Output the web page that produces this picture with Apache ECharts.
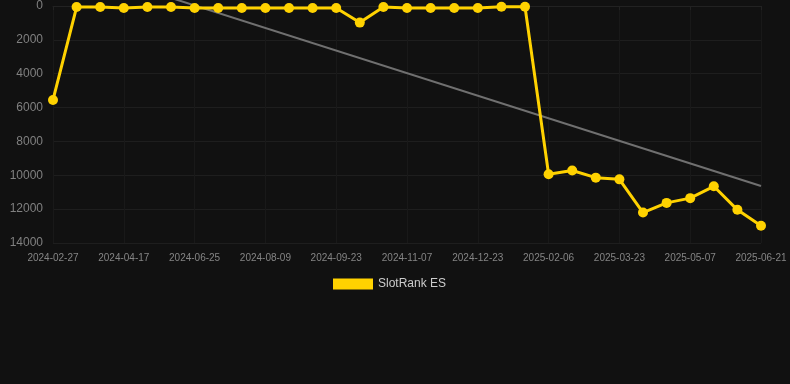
<!DOCTYPE html>
<html><head><meta charset="utf-8">
<script src="https://cdn.jsdelivr.net/npm/echarts@6/dist/echarts.min.js"></script>
<style>html,body{margin:0;padding:0;background:#111111;}#c{width:790px;height:384px;}</style>
</head><body><div id="c"></div>
<script>
const categories = ['2024-02-27','2024-03-15','2024-04-01','2024-04-17','2024-05-10','2024-06-02','2024-06-25',
 '2024-07-10','2024-07-25','2024-08-09','2024-08-24','2024-09-08','2024-09-23','2024-10-08','2024-10-23',
 '2024-11-07','2024-11-22','2024-12-08','2024-12-23','2025-01-07','2025-01-22','2025-02-06','2025-02-21',
 '2025-03-08','2025-03-23','2025-04-07','2025-04-22','2025-05-07','2025-05-22','2025-06-06','2025-06-21'];
const rankValues = [5550,60,60,120,60,60,120,120,120,120,120,120,120,980,60,
 120,120,120,120,40,40,9940,9720,10140,10240,12200,11630,11350,10650,12040,12980];
const trendStart = -2700;
const trendEnd = 10630;
const yTicks = [0,2000,4000,6000,8000,10000,12000,14000];
const seriesName = 'SlotRank ES';

const chart = echarts.init(document.getElementById('c'), null, {renderer:'canvas'});
chart.setOption({
  backgroundColor:'#111111',
  animation:false,
  grid:{left:53,right:29,top:6,bottom:141},
  legend:{data:[seriesName],top:273,left:328,itemWidth:40,itemHeight:11,icon:'rect',
    textStyle:{color:'#cccccc',fontSize:12,fontFamily:'Arial, Liberation Sans, sans-serif'}},
  xAxis:{type:'category',data:categories,boundaryGap:false,
    axisLine:{show:true,lineStyle:{color:'#222222'}},
    axisTick:{show:true,interval:2,length:4,lineStyle:{color:'#222222'}},
    axisLabel:{interval:2,color:'#858585',fontSize:10,margin:10,fontFamily:'Arial, Liberation Sans, sans-serif'},
    splitLine:{show:true,interval:2,lineStyle:{color:'#191919'}}},
  yAxis:{type:'value',inverse:true,min:yTicks[0],max:yTicks[yTicks.length-1],interval:2000,
    axisLine:{show:false},axisTick:{show:false},
    axisLabel:{color:'#808080',fontSize:12,margin:10,fontFamily:'Arial, Liberation Sans, sans-serif',
      formatter:function(v){return String(v);}},
    splitLine:{lineStyle:{color:'#1e1e1e'}}},
  series:[
    {name:seriesName,type:'line',data:rankValues,symbol:'circle',symbolSize:10,
      lineStyle:{color:'#FFD200',width:3},itemStyle:{color:'#FFD200'},z:3},
    {name:'trend',type:'line',data:[[0,trendStart],[categories.length-1,trendEnd]],symbol:'none',clip:false,
      lineStyle:{color:'#707070',width:2},z:2,silent:true}
  ]
});
</script></body></html>
